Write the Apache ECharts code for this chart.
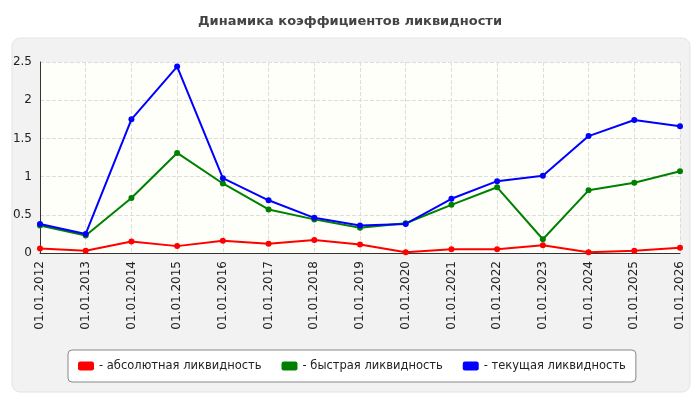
<!DOCTYPE html>
<html><head><meta charset="utf-8">
<script src="https://cdn.jsdelivr.net/npm/echarts@6/dist/echarts.min.js"></script>
<style>body{margin:0;background:#fff}#c{width:700px;height:400px}</style>
</head><body><div id="c"></div>
<script>
const categories=['01.01.2012','01.01.2013','01.01.2014','01.01.2015','01.01.2016','01.01.2017','01.01.2018','01.01.2019','01.01.2020','01.01.2021','01.01.2022','01.01.2023','01.01.2024','01.01.2025','01.01.2026'];
const absolute=[0.06,0.03,0.15,0.09,0.16,0.12,0.17,0.11,0.01,0.05,0.05,0.10,0.01,0.03,0.07];
const quick=[0.36,0.23,0.72,1.31,0.91,0.57,0.44,0.33,0.39,0.63,0.86,0.18,0.82,0.92,1.07];
const current=[0.38,0.25,1.75,2.44,0.98,0.69,0.46,0.36,0.38,0.71,0.94,1.01,1.53,1.74,1.66];
const names=['- абсолютная ликвидность','- быстрая ликвидность','- текущая ликвидность'];
const colors=['#ff0000','#008000','#0000ff'];
const ch=echarts.init(document.getElementById('c'));
const mk=(n,d,c)=>({name:n,type:'line',data:d,symbol:'circle',symbolSize:6,itemStyle:{color:c},lineStyle:{color:c,width:2}});
ch.setOption({
 animation:false,
 graphic:[{type:'rect',z:-10,shape:{x:12,y:38,width:678,height:354,r:8},style:{fill:'#f2f2f2',stroke:'#e4e4e4'}}],
 title:{text:'Динамика коэффициентов ликвидности',left:'center',top:10,textStyle:{fontSize:13,fontWeight:'bold',color:'#444',fontFamily:'DejaVu Sans'}},
 grid:{left:40,right:20,top:62,bottom:147,show:true,backgroundColor:'#fffffa',borderWidth:0},
 legend:{data:names,bottom:18,left:68,width:580,itemGap:20,padding:[10,10],borderColor:'#888',borderWidth:1,borderRadius:4,backgroundColor:'#fff',icon:'roundRect',itemWidth:16,itemHeight:9,itemStyle:{borderWidth:0},textStyle:{fontSize:11.5,color:'#222',fontFamily:'DejaVu Sans'}},
 xAxis:{type:'category',data:categories,boundaryGap:false,axisLine:{lineStyle:{color:'#333'}},axisTick:{show:false},axisLabel:{rotate:90,color:'#222',fontSize:12,fontFamily:'DejaVu Sans'},splitLine:{show:true,lineStyle:{color:'#ddd',type:'dashed'}}},
 yAxis:{type:'value',min:0,max:2.5,interval:0.5,axisLine:{show:true,lineStyle:{color:'#333'}},axisLabel:{color:'#222',fontSize:12,fontFamily:'DejaVu Sans'},splitLine:{lineStyle:{color:'#ddd',type:'dashed'}}},
 series:[mk(names[0],absolute,colors[0]),mk(names[1],quick,colors[1]),mk(names[2],current,colors[2])]
});
</script></body></html>
